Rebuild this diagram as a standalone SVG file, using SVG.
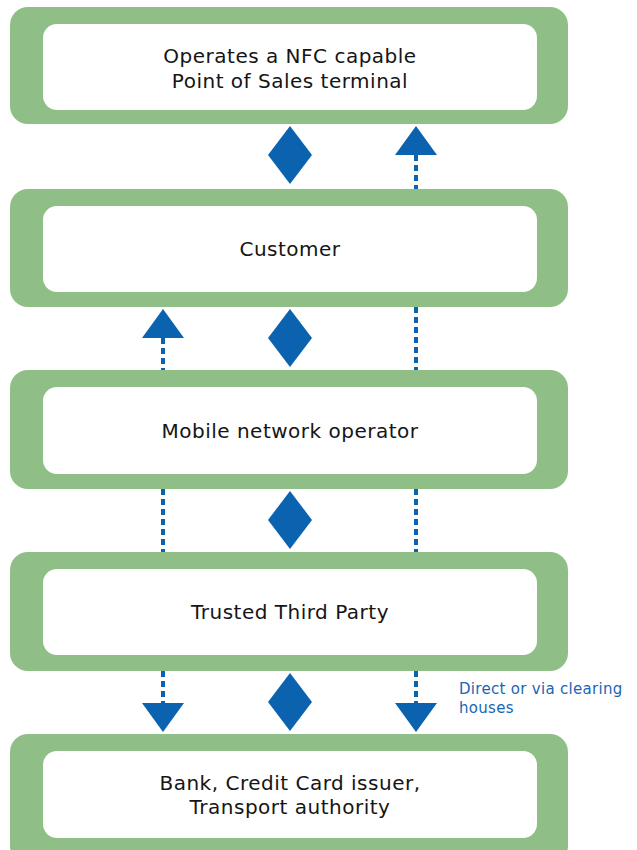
<svg xmlns="http://www.w3.org/2000/svg" width="637" height="850" viewBox="0 0 637 850">
  <style>
    .frame { fill: #8fbf87; }
    .panel { fill: #ffffff; }
    .label { font-family: "DejaVu Sans", "Liberation Sans", sans-serif; font-size: 20px; letter-spacing: 0.5px; fill: #151515; text-anchor: middle; }
    .note { font-family: "DejaVu Sans", "Liberation Sans", sans-serif; font-size: 15px; letter-spacing: 0.3px; fill: #1a66b3; }
    .flow { stroke: #0b63b0; stroke-width: 4; stroke-dasharray: 6 4; fill: none; }
    .mark { fill: #0b63b0; }
  </style>
  <defs>
    <polygon id="diamond" points="0,0 22,29 0,58 -22,29" class="mark"/>
    <polygon id="tri-up" points="0,0 21,29 -21,29" class="mark"/>
    <polygon id="tri-down" points="0,29 21,0 -21,0" class="mark"/>
  </defs>
  <rect width="637" height="850" fill="#ffffff"/>

  <g id="pos-terminal">
    <rect class="frame" x="10" y="7" width="558" height="117" rx="18"/>
    <rect class="panel" x="43" y="24" width="494" height="86" rx="14"/>
    <text class="label" x="290" y="63">Operates a NFC capable</text>
    <text class="label" x="290" y="88">Point of Sales terminal</text>
  </g>

  <g id="customer">
    <rect class="frame" x="10" y="189" width="558" height="118" rx="18"/>
    <rect class="panel" x="43" y="206" width="494" height="86" rx="14"/>
    <text class="label" x="290" y="256">Customer</text>
  </g>

  <g id="mobile-operator">
    <rect class="frame" x="10" y="370" width="558" height="119" rx="18"/>
    <rect class="panel" x="43" y="387" width="494" height="87" rx="14"/>
    <text class="label" x="290" y="438">Mobile network operator</text>
  </g>

  <g id="trusted-third-party">
    <rect class="frame" x="10" y="552" width="558" height="119" rx="18"/>
    <rect class="panel" x="43" y="569" width="494" height="86" rx="14"/>
    <text class="label" x="290" y="619">Trusted Third Party</text>
  </g>

  <g id="issuer">
    <rect class="frame" x="10" y="734" width="558" height="130" rx="18"/>
    <rect class="panel" x="43" y="751" width="494" height="87" rx="14"/>
    <text class="label" x="290" y="790">Bank, Credit Card issuer,</text>
    <text class="label" x="290" y="814">Transport authority</text>
  </g>

  <g id="connectors">
    <!-- terminal / customer -->
    <use href="#diamond" x="290" y="126"/>
    <line class="flow" x1="416" y1="155" x2="416" y2="189"/>
    <use href="#tri-up" x="416" y="126"/>

    <!-- customer / mobile operator -->
    <line class="flow" x1="163" y1="338" x2="163" y2="370"/>
    <use href="#tri-up" x="163" y="309"/>
    <use href="#diamond" x="290" y="309"/>
    <line class="flow" x1="416" y1="307" x2="416" y2="370"/>

    <!-- mobile operator / trusted third party -->
    <line class="flow" x1="163" y1="489" x2="163" y2="552"/>
    <use href="#diamond" x="290" y="491"/>
    <line class="flow" x1="416" y1="489" x2="416" y2="552"/>

    <!-- trusted third party / issuer -->
    <line class="flow" x1="163" y1="671" x2="163" y2="703"/>
    <use href="#tri-down" x="163" y="703"/>
    <use href="#diamond" x="290" y="673"/>
    <line class="flow" x1="416" y1="671" x2="416" y2="703"/>
    <use href="#tri-down" x="416" y="703"/>
  </g>

  <g id="clearing-note">
    <text class="note" x="459" y="694">Direct or via clearing</text>
    <text class="note" x="459" y="713">houses</text>
  </g>
</svg>
